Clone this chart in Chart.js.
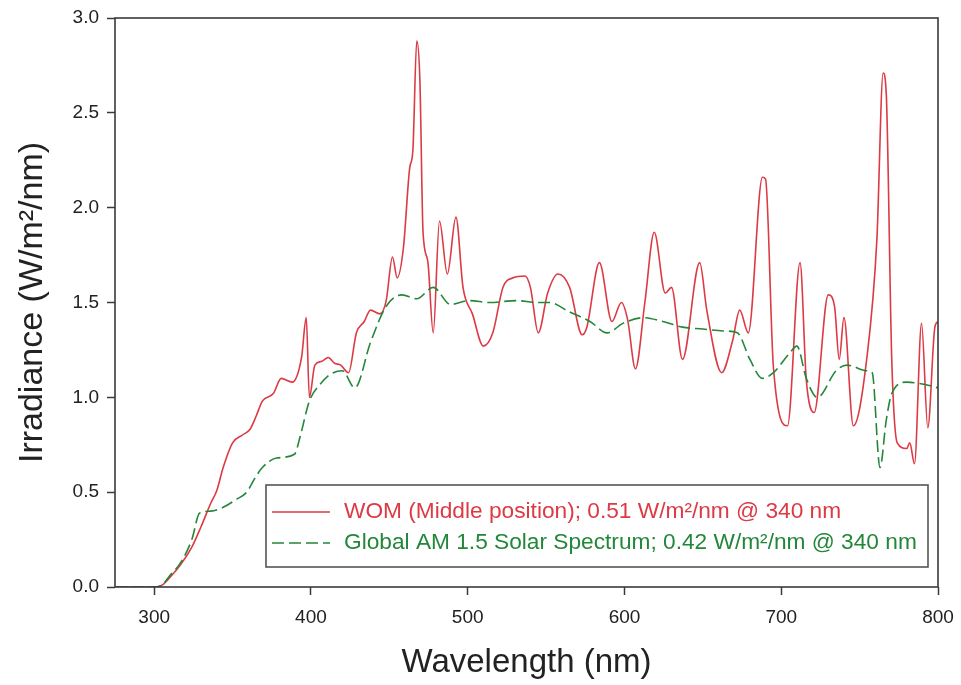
<!DOCTYPE html>
<html>
<head>
<meta charset="utf-8">
<script src="https://cdn.jsdelivr.net/npm/chart.js@4.4.1/dist/chart.umd.min.js"></script>
<style>
  html, body { margin: 0; padding: 0; background: #fff; }
  #wrap { width: 961px; height: 685px; position: relative; }
</style>
</head>
<body>
<div id="wrap"><canvas id="specChart"></canvas></div>
<script>
// WOM measured spectrum (middle position)
const womNm = [275, 290, 300, 305, 310, 317, 324, 330, 336, 340, 344, 350, 356, 361, 365, 369, 376, 381, 388, 394,
  397, 399, 402.5, 407, 411, 415, 419, 424, 429, 434, 438, 444, 448, 452, 455, 459, 463, 465, 467.5, 469.5,
  471.5, 474.5, 478, 482, 487, 492.5, 497, 503, 510, 516, 522.5, 529, 536.5, 540, 545, 551, 557.5, 565, 573, 576,
  584, 592, 598, 602, 607, 613, 619, 626, 630, 637, 648, 652.5, 662, 669, 673.5, 679, 688, 690, 695, 704,
  712, 716, 721, 730, 734, 737, 740, 746, 754.5, 761, 765, 767, 770.5, 774, 780, 782, 785, 789.5, 793.5, 798, 800];
const womVal = [0, 0, 0, 0.01, 0.05, 0.12, 0.21, 0.32, 0.44, 0.51, 0.63, 0.76, 0.80, 0.83, 0.90, 0.98, 1.02, 1.10, 1.08, 1.21,
  1.42, 1.00, 1.17, 1.19, 1.21, 1.18, 1.17, 1.13, 1.34, 1.40, 1.46, 1.44, 1.51, 1.74, 1.63, 1.79, 2.21, 2.30, 2.88, 2.67,
  1.87, 1.72, 1.34, 1.93, 1.65, 1.95, 1.58, 1.44, 1.27, 1.34, 1.58, 1.63, 1.64, 1.58, 1.34, 1.55, 1.65, 1.58, 1.33, 1.37,
  1.71, 1.40, 1.50, 1.41, 1.15, 1.50, 1.87, 1.55, 1.58, 1.20, 1.71, 1.46, 1.13, 1.30, 1.46, 1.34, 2.16, 2.15, 1.16, 0.85,
  1.71, 1.09, 0.92, 1.54, 1.48, 1.20, 1.42, 0.85, 1.20, 1.83, 2.71, 2.60, 1.20, 0.76, 0.73, 0.76, 0.65, 1.39, 0.84, 1.37, 1.40];

// Global AM 1.5 reference spectrum
const amNm = [275, 300, 305, 310, 317, 324, 329, 336, 344, 352, 359, 364, 369, 378, 389.5, 393, 399, 406, 412, 420,
  428, 438, 448, 458, 467.5, 478, 489, 501, 514, 531, 544, 552, 565, 578, 589, 599, 612, 624.5, 637, 650,
  663, 672, 680, 688, 695, 705, 710, 716, 723, 735, 742, 754.5, 758, 763, 767, 770.5, 780, 790, 800];
const amVal = [0, 0, 0.01, 0.06, 0.13, 0.25, 0.39, 0.40, 0.42, 0.46, 0.50, 0.57, 0.63, 0.68, 0.70, 0.79, 0.98, 1.07, 1.12, 1.14,
  1.05, 1.29, 1.48, 1.54, 1.52, 1.58, 1.49, 1.51, 1.50, 1.51, 1.50, 1.50, 1.45, 1.40, 1.34, 1.39, 1.42, 1.40, 1.37, 1.36,
  1.35, 1.34, 1.20, 1.10, 1.13, 1.23, 1.27, 1.10, 1.00, 1.14, 1.17, 1.14, 1.13, 0.63, 0.88, 1.02, 1.08, 1.07, 1.05];

const seriesLabels = [
  'WOM (Middle position); 0.51 W/m\u00B2/nm @ 340 nm',
  'Global AM 1.5 Solar Spectrum; 0.42 W/m\u00B2/nm @ 340 nm'
];

const xTicks = [300, 400, 500, 600, 700, 800];
const yTicks = [0, 0.5, 1.0, 1.5, 2.0, 2.5, 3.0];

const RED = '#dc3a44';
const GREEN = '#23873a';
const AXIS = '#3a3a3a';
const FONT = "'Liberation Sans', Arial, Helvetica, sans-serif";

const toPoints = (xs, ys) => xs.map((x, i) => ({ x: x, y: ys[i] }));

// frame around the plot + boxed legend inside it
const frameAndLegend = {
  id: 'frameAndLegend',
  afterDraw(chart) {
    const { ctx, chartArea: a } = chart;
    ctx.save();
    ctx.strokeStyle = AXIS;
    ctx.lineWidth = 1.6;
    ctx.strokeRect(a.left, a.top, a.right - a.left, a.bottom - a.top);

    const box = { x: 266, y: 485, w: 662, h: 82 };
    ctx.fillStyle = '#fff';
    ctx.fillRect(box.x, box.y, box.w, box.h);
    ctx.lineWidth = 1.6;
    ctx.strokeStyle = '#555';
    ctx.strokeRect(box.x, box.y, box.w, box.h);

    ctx.font = '22.7px ' + FONT;
    ctx.textBaseline = 'middle';
    chart.data.datasets.forEach((ds, i) => {
      const yy = box.y + 27 + i * 31;
      ctx.strokeStyle = ds.borderColor;
      ctx.lineWidth = ds.borderWidth;
      ctx.setLineDash(ds.borderDash || []);
      ctx.beginPath();
      ctx.moveTo(box.x + 6, yy);
      ctx.lineTo(box.x + 64, yy);
      ctx.stroke();
      ctx.setLineDash([]);
      ctx.fillStyle = ds.borderColor;
      ctx.fillText(ds.label, box.x + 78, yy);
    });
    ctx.restore();
  }
};

new Chart(document.getElementById('specChart'), {
  type: 'line',
  data: {
    datasets: [{
      label: seriesLabels[0],
      data: toPoints(womNm, womVal),
      borderColor: RED,
      borderWidth: 1.6,
      pointRadius: 0,
      cubicInterpolationMode: 'monotone',
      order: 1
    }, {
      label: seriesLabels[1],
      data: toPoints(amNm, amVal),
      borderColor: GREEN,
      borderWidth: 1.6,
      borderDash: [12, 5],
      pointRadius: 0,
      cubicInterpolationMode: 'monotone',
      order: 0
    }]
  },
  options: {
    responsive: true,
    maintainAspectRatio: false,
    animation: false,
    layout: { padding: { top: 18, right: 23, left: 0, bottom: 0 } },
    plugins: {
      legend: { display: false },
      tooltip: { enabled: false }
    },
    scales: {
      x: {
        type: 'linear',
        min: 275,
        max: 800,
        afterFit: (s) => { s.height = 98; s.paddingLeft = 0; s.paddingRight = 0; },
        afterBuildTicks: (s) => { s.ticks = xTicks.map(v => ({ value: v })); },
        ticks: { color: '#222', font: { family: FONT, size: 19 }, padding: 11, maxRotation: 0 },
        grid: { drawOnChartArea: false, drawTicks: true, tickLength: 8, color: AXIS, tickWidth: 1.5 },
        border: { display: false },
        title: {
          display: true,
          text: 'Wavelength (nm)',
          color: '#222',
          font: { family: FONT, size: 33 },
          padding: { bottom: 2 }
        }
      },
      y: {
        min: 0,
        max: 3,
        afterFit: (s) => { s.width = 115; s.paddingTop = 0; s.paddingBottom = 0; },
        afterBuildTicks: (s) => { s.ticks = yTicks.map(v => ({ value: v })); },
        ticks: {
          color: '#222',
          font: { family: FONT, size: 19 },
          padding: 8,
          callback: (v) => Number(v).toFixed(1)
        },
        grid: { drawOnChartArea: false, drawTicks: true, tickLength: 8, color: AXIS, tickWidth: 1.5 },
        border: { display: false },
        title: {
          display: true,
          text: 'Irradiance (W/m\u00B2/nm)',
          color: '#222',
          font: { family: FONT, size: 34 },
          padding: { top: 12 }
        }
      }
    }
  },
  plugins: [frameAndLegend]
});
</script>
</body>
</html>
